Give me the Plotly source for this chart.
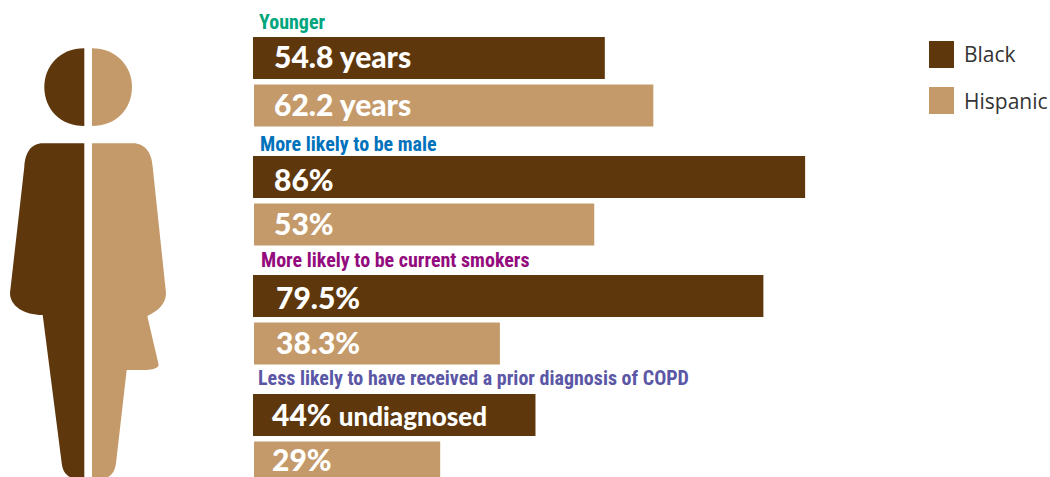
import plotly.graph_objects as go

W, H = 1050, 477

headings = ["Younger", "More likely to be male", "More likely to be current smokers",
            "Less likely to have received a prior diagnosis of COPD"]
heading_colors = ["#00A57D", "#0072BC", "#930B7D", "#5B57A6"]
black_values = [54.8, 86, 79.5, 44]
hispanic_values = [62.2, 53, 38.3, 29]
black_labels = ["54.8 years", "86%", "79.5%", "44% <span style=\"font-size:26px\">undiagnosed</span>"]
hispanic_labels = ["62.2 years", "53%", "38.3%", "29%"]
series_names = ["Black", "Hispanic"]
DARK, LIGHT = "#5E370C", "#C49A6A"

# layout constants: pixels per value unit, row step
PX_PER_UNIT = 6.42
ROW_PX = 23.8
X_ORIGIN_PX, Y_ORIGIN_PX = 253, 58
GROUP_STEP, SUB_STEP = 5, 2

# fine label placement in pixels
heading_dx = [4, 5, 6, 3]
heading_dy = [0, -3, 0, 1]
label_dx = [19, 19, 21, 17]
black_dy = [2, -2, -1, 1]
hispanic_dy = [2, 2, 2, 4]

black_rows = [GROUP_STEP * i for i in range(len(headings))]
hispanic_rows = [GROUP_STEP * i + SUB_STEP for i in range(len(headings))]
heading_rows = [GROUP_STEP * i - 1.5 for i in range(len(headings))]
bar_width = 42 / ROW_PX

fig = go.Figure()
fig.add_bar(y=black_rows, x=black_values, orientation="h", width=bar_width,
            marker=dict(color=DARK, line_width=0), name=series_names[0])
fig.add_bar(y=hispanic_rows, x=hispanic_values, orientation="h", width=bar_width,
            base=1 / PX_PER_UNIT, marker=dict(color=LIGHT, line_width=0), name=series_names[1])

annotations = []
VALUE_FONT = dict(family="Lato", size=30, color="white", weight=900)
HEAD_FONT = "Roboto Condensed, Lato"
for i in range(len(headings)):
    annotations.append(dict(x=heading_dx[i] / PX_PER_UNIT, y=heading_rows[i], xref="x", yref="y",
                            text="<b>%s</b>" % headings[i], showarrow=False, xanchor="left", yanchor="middle",
                            yshift=heading_dy[i], font=dict(family=HEAD_FONT, size=20, color=heading_colors[i])))
    annotations.append(dict(x=label_dx[i] / PX_PER_UNIT, y=black_rows[i], xref="x", yref="y",
                            text=black_labels[i], showarrow=False, xanchor="left", yanchor="middle",
                            yshift=black_dy[i], font=VALUE_FONT))
    annotations.append(dict(x=label_dx[i] / PX_PER_UNIT, y=hispanic_rows[i], xref="x", yref="y",
                            text=hispanic_labels[i], showarrow=False, xanchor="left", yanchor="middle",
                            yshift=hispanic_dy[i], font=VALUE_FONT))

def px(x): return x / W
def py(y): return 1 - y / H

def path(*cmds):
    out = []
    for c in cmds:
        op, pts = c[0], c[1:]
        out.append(op + " ".join("%.5f,%.5f" % (px(a), py(b)) for a, b in pts))
    return " ".join(out) + " Z"

silhouette = [
    (DARK, path(("M", (84.3, 48.3)), ("C", (60, 48.3), (44.3, 66), (44.3, 87)),
                ("C", (44.3, 109), (60, 126), (84.3, 126)))),
    (LIGHT, path(("M", (92, 48.3)), ("C", (116, 48.3), (132, 66), (132, 87)),
                 ("C", (132, 109), (116, 126), (92, 126)))),
    (DARK, path(("M", (84.3, 143.3)), ("L", (43, 143.3)), ("C", (31, 143.3), (25, 153), (24.3, 167)),
                ("L", (10, 293)), ("C", (10, 306), (24, 315), (42.7, 315)), ("L", (61.7, 463)),
                ("C", (62.5, 471), (66, 475), (70, 477)), ("L", (84.3, 477)))),
    (LIGHT, path(("M", (92, 143.3)), ("L", (133, 143.3)), ("C", (145, 143.3), (152, 153), (152.7, 167)),
                 ("L", (166, 293)), ("C", (166, 304), (158, 311), (147.3, 316)), ("L", (158.7, 365)),
                 ("C", (158, 369), (150, 370), (144, 370)), ("L", (126.7, 370)), ("L", (116, 463)),
                 ("C", (115, 471), (112, 475), (108, 477)), ("L", (92, 477)))),
]
shapes = [dict(type="path", xref="paper", yref="paper", path=p, fillcolor=c, line_width=0)
          for c, p in silhouette]

# legend drawn to size
for name, col, y0 in zip(series_names, [DARK, LIGHT], [41, 87]):
    shapes.append(dict(type="rect", xref="paper", yref="paper", x0=px(929), x1=px(954),
                       y0=py(y0 + 27), y1=py(y0), fillcolor=col, line_width=0))
    annotations.append(dict(x=px(962), y=py(y0 + 13.5), xref="paper", yref="paper", text=name,
                            showarrow=False, xanchor="left", yanchor="middle",
                            font=dict(family="Open Sans", size=21, color="#333333")))

fig.update_layout(
    width=W, height=H, margin=dict(l=0, r=0, t=0, b=0), autosize=False,
    paper_bgcolor="white", plot_bgcolor="white", showlegend=False, barmode="overlay",
    xaxis=dict(visible=False, range=[-X_ORIGIN_PX / PX_PER_UNIT, (W - X_ORIGIN_PX) / PX_PER_UNIT]),
    yaxis=dict(visible=False, range=[(H - Y_ORIGIN_PX) / ROW_PX, -Y_ORIGIN_PX / ROW_PX]),
    annotations=annotations, shapes=shapes,
)
fig.write_html("out.html", post_script="document.body.style.margin='0';", config={"displayModeBar": False})
